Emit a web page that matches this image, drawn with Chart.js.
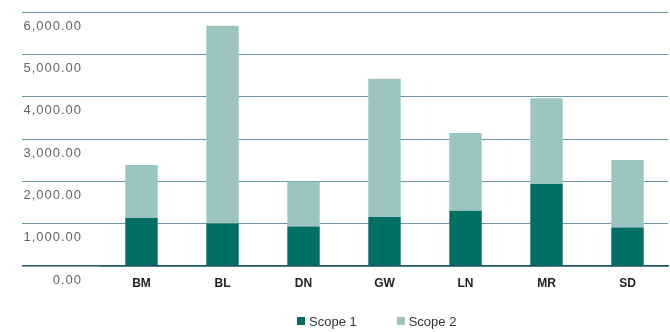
<!DOCTYPE html>
<html>
<head>
<meta charset="utf-8">
<script src="https://cdn.jsdelivr.net/npm/chart.js@4"></script>
<style>
  html, body { margin: 0; padding: 0; background: #ffffff; }
  #wrap { position: relative; width: 670px; height: 332px; }
  canvas { display: block; }
  #legend {
    position: absolute; left: 297px; top: 312px; height: 18px;
    display: flex; align-items: center;
    font: 13px "Liberation Sans", Arial, sans-serif; color: #333333;
  }
  #legend .item { display: flex; align-items: center; }
  #legend .item + .item { margin-left: 40px; }
  #legend .box { width: 8px; height: 8px; margin-right: 4px; }
</style>
</head>
<body>
<div id="wrap">
  <canvas id="emissions" width="670" height="332"></canvas>
  <div id="legend"></div>
</div>
<script>
// Sites and their emissions by scope
const sites = ['BM', 'BL', 'DN', 'GW', 'LN', 'MR', 'SD'];
const scope1 = [1134, 1006, 936, 1158, 1307, 1937, 912];
const scope2 = [1252, 4671, 1054, 3267, 1835, 2023, 1592];
const seriesNames = ['Scope 1', 'Scope 2'];
const yTicks = [0, 1000, 2000, 3000, 4000, 5000, 6000];

const darkTeal = '#006e62';
const lightTeal = '#9cc5c2';
const gridColor = '#6d98a4';
const baseColor = '#1f5566';

const fmt = v => v.toLocaleString('en-US', { minimumFractionDigits: 2, maximumFractionDigits: 2 });
const isBase = c => c.tick && c.tick.value === 0;

// Value labels on the left axis are drawn slightly tracked out
const trackedYLabels = {
  id: 'trackedYLabels',
  afterLayout(chart) {
    const y = chart.scales.y;
    if (!y || y._tracked) return;
    const draw = y.drawLabels.bind(y);
    y.drawLabels = function (area) {
      const ctx = this.ctx;
      const prev = ctx.letterSpacing;
      ctx.letterSpacing = '1px';
      draw(area);
      ctx.letterSpacing = prev || '0px';
    };
    y._tracked = true;
  }
};

const chart = new Chart(document.getElementById('emissions'), {
  type: 'bar',
  data: {
    labels: sites,
    datasets: [
      { label: seriesNames[0], data: scope1, backgroundColor: darkTeal, barPercentage: 0.4, categoryPercentage: 1 },
      { label: seriesNames[1], data: scope2, backgroundColor: lightTeal, barPercentage: 0.4, categoryPercentage: 1 }
    ]
  },
  plugins: [trackedYLabels],
  options: {
    responsive: false,
    devicePixelRatio: 1,
    animation: false,
    layout: { padding: { top: 12, right: 2, bottom: 36, left: 0 } },
    plugins: {
      tooltip: { enabled: false },
      legend: { display: false }
    },
    scales: {
      x: {
        stacked: true,
        afterFit: s => { s.height = 30; },
        grid: { display: false, drawTicks: false },
        border: { display: true, color: baseColor, width: 1.5 },
        ticks: {
          color: '#222222',
          padding: 10,
          font: { family: 'Liberation Sans', size: 12, weight: 'bold' }
        }
      },
      y: {
        stacked: true,
        min: 0,
        max: 6000,
        afterBuildTicks: s => { s.ticks = yTicks.map(v => ({ value: v })); },
        afterFit: s => { s.width = 101; },
        grid: {
          color: c => isBase(c) ? baseColor : gridColor,
          tickColor: c => isBase(c) ? baseColor : gridColor,
          lineWidth: c => isBase(c) ? 1.5 : 1,
          tickWidth: c => isBase(c) ? 1.5 : 1,
          tickLength: 79,
          drawTicks: true
        },
        border: { display: false },
        ticks: {
          color: '#666666',
          padding: -60,
          labelOffset: 14,
          font: { family: 'Liberation Sans', size: 13 },
          callback: v => fmt(v)
        }
      }
    }
  }
});

// Legend built from the chart's own datasets
const legend = document.getElementById('legend');
chart.data.datasets.forEach(ds => {
  const item = document.createElement('div');
  item.className = 'item';
  const box = document.createElement('span');
  box.className = 'box';
  box.style.background = ds.backgroundColor;
  const text = document.createElement('span');
  text.textContent = ds.label;
  item.appendChild(box);
  item.appendChild(text);
  legend.appendChild(item);
});
</script>
</body>
</html>
